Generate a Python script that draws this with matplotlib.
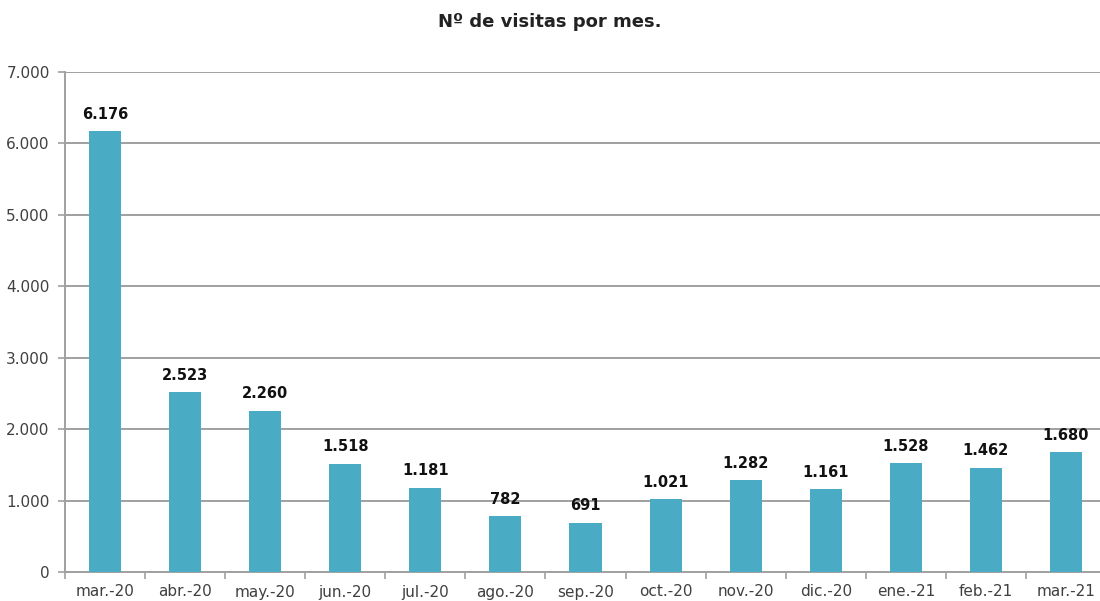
import matplotlib
matplotlib.use("Agg")
import matplotlib.pyplot as plt
import numpy as np
from matplotlib.ticker import FuncFormatter, FixedLocator

meses = ["mar.-20", "abr.-20", "may.-20", "jun.-20", "jul.-20", "ago.-20", "sep.-20",
         "oct.-20", "nov.-20", "dic.-20", "ene.-21", "feb.-21", "mar.-21"]
visitas = [6176, 2523, 2260, 1518, 1181, 782, 691, 1021, 1282, 1161, 1528, 1462, 1680]
titulo = "Nº de visitas por mes."

plt.rcParams['font.family'] = ['DejaVu Sans']

fig = plt.figure(figsize=(11, 6.01), dpi=100)
ax = fig.add_axes([65/1100, 29/601, 1041/1100, 500/601])

x = np.arange(len(meses))
ax.bar(x, visitas, width=0.4, color="#4AABC5", zorder=3)

def miles(v, pos):
    return f"{int(v):,}".replace(",", ".")

for xi, v in zip(x, visitas):
    ax.text(xi, v + 130, miles(v, None), ha="center", va="bottom",
            fontsize=10.5, fontweight="bold", color="#111111")

ax.set_xlim(-0.5, len(meses) - 0.5)
ax.set_ylim(0, 7000)
ax.set_yticks(np.arange(0, 7001, 1000))
ax.yaxis.set_major_formatter(FuncFormatter(miles))
ax.set_xticks(x)
ax.set_xticklabels(meses)
ax.xaxis.set_minor_locator(FixedLocator(np.arange(-0.5, len(meses), 1)))
ax.tick_params(axis="x", which="major", length=0, pad=9, labelsize=11, labelcolor="#404040")
ax.tick_params(axis="x", which="minor", length=5, color="#A0A0A0", width=1.2)
ax.tick_params(axis="y", length=5, color="#A0A0A0", width=1.2, labelsize=11,
               labelcolor="#404040", pad=6)

ax.grid(axis="y", color="#A0A0A0", linewidth=1.4, zorder=0)
for s in ["top", "right"]:
    ax.spines[s].set_visible(False)
for s in ["left", "bottom"]:
    ax.spines[s].set_color("#A0A0A0")
    ax.spines[s].set_linewidth(1.4)

fig.text(0.5, 1 - 22/601, titulo, ha="center", va="center", fontsize=13,
         fontweight="bold", color="#222222")

fig.savefig("out.png", dpi=100)
